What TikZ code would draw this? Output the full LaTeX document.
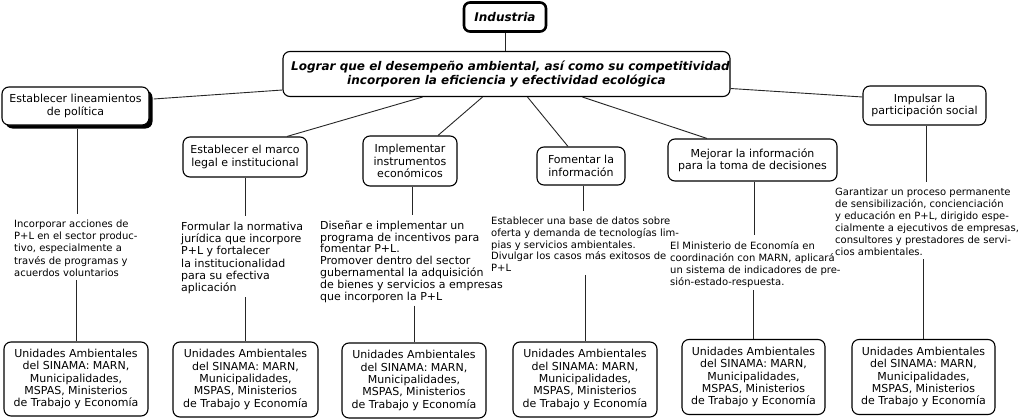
\documentclass[tikz,border=0pt]{standalone}
\usepackage{fontspec}
\setmainfont{DejaVu Sans}
\usetikzlibrary{calc,shadows}
\begin{document}
\begin{tikzpicture}[x=1pt,y=-1pt,
  conn/.style={draw=black!85, line width=0.9pt},
  rbox/.style={draw, fill=white, line width=1.1pt, rounded corners=7pt, align=center, inner sep=0pt,
    font=\fontsize{11}{12.3}\selectfont},
  titlebox/.style={rbox, font=\bfseries\itshape\fontsize{12}{14.5}\selectfont},
  botbox/.style={rbox, minimum width=143, minimum height=75},
  desc/.style={align=left, inner sep=0pt, anchor=north west, font=\fontsize{10}{12.3}\selectfont},
  descbig/.style={desc, font=\fontsize{11}{12}\selectfont},
  gapend/.style={conn, shorten >=6pt},
  gapstart/.style={conn, shorten <=3pt}
]
\useasboundingbox (0,0) rectangle (1025,420);

% top
\node[titlebox, line width=2.6pt, rounded corners=6pt, minimum width=82, minimum height=29] (ind) at (505,17) {Industria};
\node[titlebox, minimum width=447, minimum height=45] (main) at (506.5,74)
  {\hspace*{8pt}Lograr que el desempeño ambiental, así como su competitividad\\incorporen la eficiencia y efectividad ecológica};

% second level
\node[rbox, minimum width=147, minimum height=38,
  general shadow={fill=black, shadow xshift=3.5pt, shadow yshift=-3.5pt}] (lin) at (75.5,106) {Establecer lineamientos\\de política};
\node[rbox, minimum width=124, minimum height=40] (marco) at (245,157) {Establecer el marco\\legal e institucional};
\node[rbox, minimum width=94, minimum height=50] (impl) at (410,161) {Implementar\\instrumentos\\económicos};
\node[rbox, minimum width=88, minimum height=38] (fom) at (581,166) {Fomentar la\\información};
\node[rbox, minimum width=169, minimum height=42] (mej) at (752.5,160) {Mejorar la información\\para la toma de decisiones};
\node[rbox, minimum width=123, minimum height=39] (imp) at (924.5,105.5) {Impulsar la\\participación social};

% descriptions
\node[desc] (d1) at (14,219.5) {Incorporar acciones de\\P+L en el sector produc-\\tivo, especialmente a\\través de programas y\\acuerdos voluntarios};
\node[descbig, font=\fontsize{11}{12.2}\selectfont] (d2) at (181,222) {Formular la normativa\\jurídica que incorpore\\P+L y fortalecer\\la institucionalidad\\para su efectiva\\aplicación};
\node[descbig, font=\fontsize{11}{11.8}\selectfont] (d3) at (320,220.5) {Diseñar e implementar un\\programa de incentivos para\\fomentar P+L.\\Promover dentro del sector\\gubernamental la adquisición\\de bienes y servicios a empresas\\que incorporen la P+L};
\node[desc, font=\fontsize{10}{11.7}\selectfont] (d4) at (491,217) {Establecer una base de datos sobre\\oferta y demanda de tecnologías lim-\\pias y servicios ambientales.\\Divulgar los casos más exitosos de\\P+L};
\node[desc, font=\fontsize{10}{12}\selectfont] (d5) at (670,241) {El Ministerio de Economía en\\coordinación con MARN, aplicará\\un sistema de indicadores de pre-\\sión-estado-respuesta.};
\node[desc, font=\fontsize{10}{12}\selectfont] (d6) at (835,188) {Garantizar un proceso permanente\\de sensibilización, concienciación\\y educación en P+L, dirigido espe-\\cialmente a ejecutivos de empresas,\\consultores y prestadores de servi-\\cios ambientales.};

% bottom boxes
\node[botbox, minimum width=144, minimum height=74] (b1) at (76,379) {Unidades Ambientales\\del SINAMA: MARN,\\Municipalidades,\\MSPAS, Ministerios\\de Trabajo y Economía};
\node[botbox, minimum width=145] (b2) at (245.5,379.5) {Unidades Ambientales\\del SINAMA: MARN,\\Municipalidades,\\MSPAS, Ministerios\\de Trabajo y Economía};
\node[botbox, minimum width=144] (b3) at (414,380.5) {Unidades Ambientales\\del SINAMA: MARN,\\Municipalidades,\\MSPAS, Ministerios\\de Trabajo y Economía};
\node[botbox, minimum width=144] (b4) at (585,379.5) {Unidades Ambientales\\del SINAMA: MARN,\\Municipalidades,\\MSPAS, Ministerios\\de Trabajo y Economía};
\node[botbox, minimum width=143] (b5) at (753.5,377) {Unidades Ambientales\\del SINAMA: MARN,\\Municipalidades,\\MSPAS, Ministerios\\de Trabajo y Economía};
\node[botbox, minimum width=143] (b6) at (923.5,377) {Unidades Ambientales\\del SINAMA: MARN,\\Municipalidades,\\MSPAS, Ministerios\\de Trabajo y Economía};

% connectors from the top
\draw[conn] (ind.south) -- (ind.south |- main.north);
\draw[conn] ($(main.west)+(0,16)$) -- ($(lin.east)+(4,-7)$);
\draw[conn] ($(main.south)+(-84,0)$) -- ($(marco.north)+(42,0)$);
\draw[conn] ($(main.south)+(-24,0)$) -- ($(impl.north)+(28,0)$);
\draw[conn] ($(main.south)+(21,0)$) -- ($(fom.north)+(-13,0)$);
\draw[conn] ($(main.south)+(76,0)$) -- ($(mej.north)+(-45.5,0)$);
\draw[conn] ($(main.east)+(0,14.5)$) -- ($(imp.west)+(0,-8.5)$);

% vertical chains
\draw[gapend] ($(lin.south)+(1.5,3.5)$) -- ($(lin.south |- d1.north)+(1.5,0)$);
\draw[gapstart] (d1.south -| b1.north) -- (b1.north);
\draw[gapend] (marco.south) -- (marco.south |- d2.north);
\draw[gapstart] (d2.south -| b2.north) -- (b2.north);
\draw[gapend] ($(impl.south)+(2,0)$) -- ($(impl.south |- d3.north)+(2,0)$);
\draw[gapstart] (d3.south -| b3.north) -- (b3.north);
\draw[gapend] ($(fom.south)+(2,0)$) -- ($(fom.south |- d4.north)+(2,0)$);
\draw[gapstart] (d4.south -| b4.north) -- (b4.north);
\draw[gapend] ($(mej.south)+(1.5,0)$) -- ($(mej.south |- d5.north)+(1.5,0)$);
\draw[gapstart] (d5.south -| b5.north) -- (b5.north);
\draw[gapend] ($(imp.south)+(1.5,0)$) -- ($(imp.south |- d6.north)+(1.5,0)$);
\draw[gapstart] (d6.south -| b6.north) -- (b6.north);
\end{tikzpicture}
\end{document}
